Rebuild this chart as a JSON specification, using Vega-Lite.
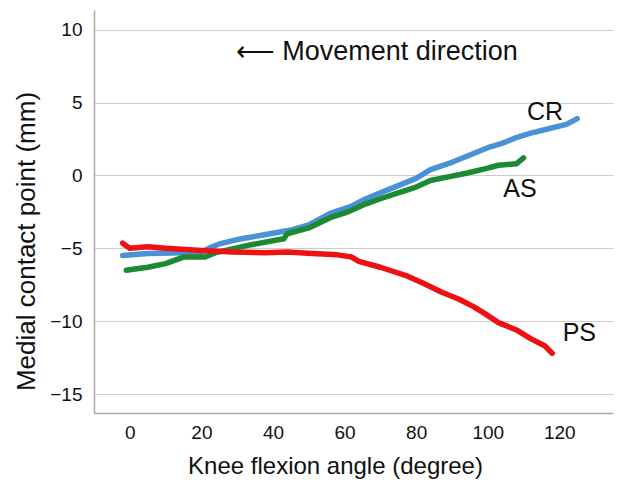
{
  "$schema": "https://vega.github.io/schema/vega-lite/v6.json",
  "width": 519,
  "height": 403,
  "autosize": {"type": "none"},
  "padding": {"left": 94, "top": 10, "right": 4, "bottom": 71},
  "background": "white",
  "config": {
    "view": {"stroke": null},
    "font": "Liberation Sans",
    "axis": {"labelFont": "Liberation Sans", "titleFont": "Liberation Sans", "labelColor": "#111", "titleColor": "#111", "titleFontWeight": "normal"}
  },
  "datasets": {
    "curves": [
      {"series": "CR", "angle": -2, "mm": -5.5},
      {"series": "CR", "angle": 5, "mm": -5.35},
      {"series": "CR", "angle": 15, "mm": -5.3},
      {"series": "CR", "angle": 20, "mm": -5.3},
      {"series": "CR", "angle": 22, "mm": -5.0},
      {"series": "CR", "angle": 25, "mm": -4.7},
      {"series": "CR", "angle": 30, "mm": -4.4},
      {"series": "CR", "angle": 38, "mm": -4.05},
      {"series": "CR", "angle": 45, "mm": -3.75},
      {"series": "CR", "angle": 50, "mm": -3.4},
      {"series": "CR", "angle": 56, "mm": -2.6},
      {"series": "CR", "angle": 62, "mm": -2.1},
      {"series": "CR", "angle": 66, "mm": -1.6},
      {"series": "CR", "angle": 70, "mm": -1.2},
      {"series": "CR", "angle": 75, "mm": -0.7},
      {"series": "CR", "angle": 80, "mm": -0.2},
      {"series": "CR", "angle": 84, "mm": 0.4},
      {"series": "CR", "angle": 90, "mm": 0.9},
      {"series": "CR", "angle": 94, "mm": 1.3},
      {"series": "CR", "angle": 100, "mm": 1.9},
      {"series": "CR", "angle": 104, "mm": 2.2},
      {"series": "CR", "angle": 108, "mm": 2.6},
      {"series": "CR", "angle": 112, "mm": 2.9},
      {"series": "CR", "angle": 117, "mm": 3.2},
      {"series": "CR", "angle": 122, "mm": 3.5},
      {"series": "CR", "angle": 125, "mm": 3.9},
      {"series": "AS", "angle": -1, "mm": -6.5},
      {"series": "AS", "angle": 5, "mm": -6.3},
      {"series": "AS", "angle": 10, "mm": -6.05},
      {"series": "AS", "angle": 15, "mm": -5.6},
      {"series": "AS", "angle": 21, "mm": -5.6},
      {"series": "AS", "angle": 24, "mm": -5.3},
      {"series": "AS", "angle": 33, "mm": -4.8},
      {"series": "AS", "angle": 43, "mm": -4.35},
      {"series": "AS", "angle": 44, "mm": -4.0},
      {"series": "AS", "angle": 50, "mm": -3.6},
      {"series": "AS", "angle": 56, "mm": -2.9},
      {"series": "AS", "angle": 61, "mm": -2.5},
      {"series": "AS", "angle": 66, "mm": -1.95},
      {"series": "AS", "angle": 70, "mm": -1.6},
      {"series": "AS", "angle": 75, "mm": -1.2},
      {"series": "AS", "angle": 80, "mm": -0.8},
      {"series": "AS", "angle": 84, "mm": -0.35},
      {"series": "AS", "angle": 89, "mm": -0.1},
      {"series": "AS", "angle": 94, "mm": 0.15},
      {"series": "AS", "angle": 100, "mm": 0.5},
      {"series": "AS", "angle": 103, "mm": 0.7},
      {"series": "AS", "angle": 108, "mm": 0.8},
      {"series": "AS", "angle": 110, "mm": 1.2},
      {"series": "PS", "angle": -2, "mm": -4.65},
      {"series": "PS", "angle": 0, "mm": -5.0},
      {"series": "PS", "angle": 5, "mm": -4.9},
      {"series": "PS", "angle": 10, "mm": -5.0},
      {"series": "PS", "angle": 20, "mm": -5.15},
      {"series": "PS", "angle": 29, "mm": -5.25},
      {"series": "PS", "angle": 38, "mm": -5.3},
      {"series": "PS", "angle": 44, "mm": -5.25},
      {"series": "PS", "angle": 51, "mm": -5.35},
      {"series": "PS", "angle": 58, "mm": -5.45},
      {"series": "PS", "angle": 62, "mm": -5.6},
      {"series": "PS", "angle": 64, "mm": -5.9},
      {"series": "PS", "angle": 70, "mm": -6.3},
      {"series": "PS", "angle": 77, "mm": -6.85},
      {"series": "PS", "angle": 82, "mm": -7.4},
      {"series": "PS", "angle": 87, "mm": -8.0},
      {"series": "PS", "angle": 92, "mm": -8.5},
      {"series": "PS", "angle": 96, "mm": -9.0},
      {"series": "PS", "angle": 99, "mm": -9.45},
      {"series": "PS", "angle": 103, "mm": -10.1},
      {"series": "PS", "angle": 108, "mm": -10.6},
      {"series": "PS", "angle": 112, "mm": -11.2},
      {"series": "PS", "angle": 116, "mm": -11.7},
      {"series": "PS", "angle": 118, "mm": -12.2}
    ],
    "labels": [
      {"label": "CR", "angle": 116, "mm": 4.35},
      {"label": "AS", "angle": 109, "mm": -0.9},
      {"label": "PS", "angle": 125.6, "mm": -10.8}
    ],
    "note": [
      {"label": "⟵ Movement direction", "angle": 69, "mm": 8.5}
    ]
  },
  "layer": [
    {
      "data": {"name": "curves"},
      "mark": {"type": "line", "strokeWidth": 5.5, "strokeCap": "round", "strokeJoin": "round"},
      "encoding": {
        "x": {
          "field": "angle", "type": "quantitative",
          "scale": {"domain": [-10, 135], "nice": false, "zero": false},
          "axis": {
            "title": "Knee flexion angle (degree)", "values": [0, 20, 40, 60, 80, 100, 120],
            "grid": false, "ticks": false, "domain": true, "domainColor": "#aaaaaa", "domainWidth": 1.5,
            "labelFontSize": 19, "labelPadding": 10, "titleFontSize": 24, "titlePadding": 12, "titleX": 241
          }
        },
        "y": {
          "field": "mm", "type": "quantitative",
          "scale": {"domain": [-16.3, 11.35], "nice": false, "zero": false},
          "axis": {
            "title": "Medial contact point (mm)", "values": [-15, -10, -5, 0, 5, 10],
            "grid": true, "gridColor": "#cccccc", "gridWidth": 1.2,
            "ticks": false, "domain": true, "domainColor": "#aaaaaa", "domainWidth": 1.5,
            "labelFontSize": 19, "labelPadding": 12, "titleFontSize": 26, "titlePadding": 10, "titleY": 231
          }
        },
        "color": {
          "field": "series", "type": "nominal",
          "scale": {"domain": ["CR", "AS", "PS"], "range": ["#4a92d6", "#1c8a32", "#ee1111"]},
          "legend": null
        },
        "order": {"field": "angle", "type": "quantitative"}
      }
    },
    {
      "data": {"name": "labels"},
      "mark": {"type": "text", "fontSize": 25, "color": "#111", "align": "center", "baseline": "middle"},
      "encoding": {
        "x": {"field": "angle", "type": "quantitative"},
        "y": {"field": "mm", "type": "quantitative"},
        "text": {"field": "label"}
      }
    },
    {
      "data": {"name": "note"},
      "mark": {"type": "text", "fontSize": 27, "color": "#111", "align": "center", "baseline": "middle"},
      "encoding": {
        "x": {"field": "angle", "type": "quantitative"},
        "y": {"field": "mm", "type": "quantitative"},
        "text": {"field": "label"}
      }
    }
  ]
}
